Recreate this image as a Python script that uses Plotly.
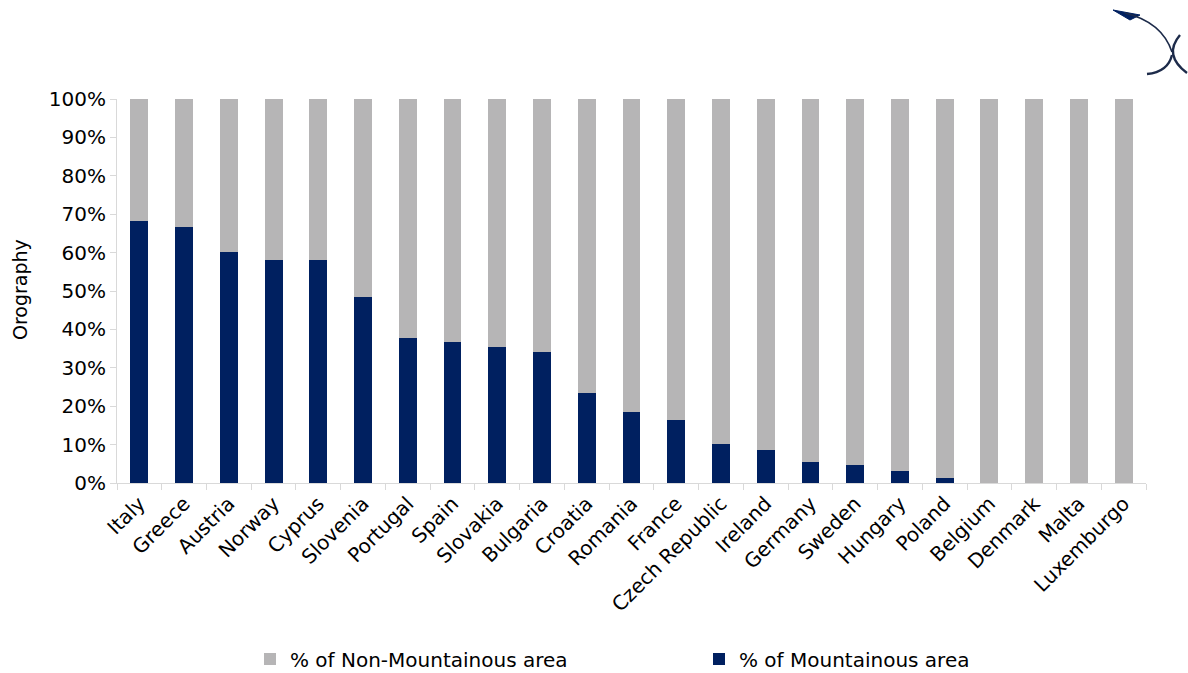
import plotly.graph_objects as go

countries = ["Italy", "Greece", "Austria", "Norway", "Cyprus", "Slovenia", "Portugal", "Spain",
             "Slovakia", "Bulgaria", "Croatia", "Romania", "France", "Czech Republic", "Ireland",
             "Germany", "Sweden", "Hungary", "Poland", "Belgium", "Denmark", "Malta", "Luxemburgo"]
mountainous = [68.2, 66.7, 60.2, 58.1, 58.1, 48.4, 37.8, 36.7, 35.4, 34.1, 23.4, 18.5, 16.4,
               10.2, 8.6, 5.5, 4.8, 3.2, 1.2, 0, 0, 0, 0]
non_mountainous = [100 - v for v in mountainous]

NAVY = "#002060"
GRAY = "#b6b5b6"
FONT = "DejaVu Sans"

fig = go.Figure()
fig.add_trace(go.Bar(x=countries, y=[v / 100 for v in mountainous], name="% of Mountainous area",
                     marker=dict(color=NAVY, line=dict(width=0)), legendrank=2))
fig.add_trace(go.Bar(x=countries, y=[v / 100 for v in non_mountainous], name="% of Non-Mountainous area",
                     marker=dict(color=GRAY, line=dict(width=0)), legendrank=1))

W, H = 1188, 673
# plot area in window pixels
L, R, T, B = 117, 1146, 99, 483

def P(x, y):
    return f"{(x - L) / (R - L):.5f},{(B - y) / (B - T):.5f}"

LOGO = "#1d2b4a"
logo_shapes = [
    dict(type="path", xref="paper", yref="paper",
         path=f"M{P(1113,10)} L{P(1140,15)} L{P(1130,20)} Z",
         fillcolor=NAVY, line=dict(color=NAVY, width=1)),
    dict(type="path", xref="paper", yref="paper",
         path=f"M{P(1125,13)} Q{P(1162,22)} {P(1172,52)}",
         line=dict(color=LOGO, width=1.6)),
    dict(type="path", xref="paper", yref="paper",
         path=f"M{P(1180,35)} Q{P(1163,55)} {P(1187,73)}",
         line=dict(color=LOGO, width=2.4)),
    dict(type="path", xref="paper", yref="paper",
         path=f"M{P(1172,55)} Q{P(1168,72)} {P(1147,74)}",
         line=dict(color=LOGO, width=2.4)),
]

fig.update_layout(
    width=W, height=H,
    margin=dict(l=L, r=W - R, t=T, b=H - B, autoexpand=False),
    barmode="stack", bargap=0.6,
    plot_bgcolor="white", paper_bgcolor="white",
    font=dict(family=FONT, size=20, color="#000000"),
    showlegend=True,
    legend=dict(orientation="h", x=(250 - L) / (R - L), xanchor="left",
                y=(B - 659) / (B - T), yanchor="middle",
                entrywidth=404, font=dict(size=20), traceorder="normal"),
    xaxis=dict(type="category", tickangle=-45, showline=True, linecolor="#d9d9d9", linewidth=1,
               ticks="outside", tickson="boundaries", ticklen=6, tickcolor="#d9d9d9",
               showgrid=False, tickfont=dict(size=20)),
    yaxis=dict(range=[0, 1], tickformat=".0%", dtick=0.1, showline=True, linecolor="#d9d9d9",
               linewidth=1, ticks="outside", ticklen=6, tickcolor="#d9d9d9", showgrid=False,
               zeroline=False, tickfont=dict(size=20)),
    annotations=[dict(text="Orography", xref="paper", yref="paper",
                      x=(20 - L) / (R - L), y=(B - 290) / (B - T), textangle=-90,
                      showarrow=False, font=dict(size=19), xanchor="center", yanchor="middle")],
    shapes=logo_shapes,
)

fig.write_html("out.html", config={"displayModeBar": False},
               post_script="document.body.style.margin='0';document.body.style.overflow='hidden';")
